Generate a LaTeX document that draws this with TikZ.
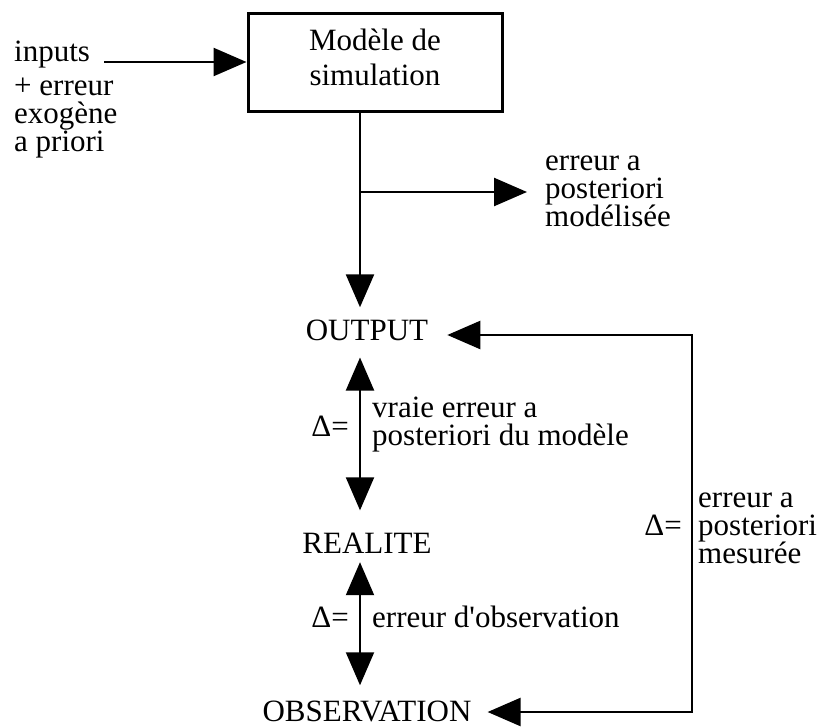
\documentclass[tikz,border=0pt]{standalone}
\usepackage{fontspec}
\setmainfont{Liberation Serif}
\usetikzlibrary{arrows.meta}
\newcommand\blockfont[1]{\fontsize{31}{#1}\selectfont\lineskiplimit=-100pt\lineskip=0pt}
\begin{document}
\begin{tikzpicture}[x=1pt,y=-1pt,
  txt/.style={inner sep=0pt, anchor=base west, align=left, font=\blockfont{28}},
  bigtri/.tip={Triangle[length=33pt,width=28pt]},
  arr/.style={line width=2.5pt, -bigtri},
  darr/.style={line width=2pt, bigtri-bigtri},
  modelbox/.style={draw, line width=3pt, minimum width=254pt, minimum height=98pt,
    inner sep=0pt, align=center, font=\blockfont{35}, text depth=10pt}]
\useasboundingbox (0,0) rectangle (820,728);
\fill[white] (0,0) rectangle (820,728);

% box
\node[modelbox] (model) at (375,62) {Modèle de\\simulation};

% left texts (multi-line nodes: base = baseline of last line)
\node[txt] (inp) at (14,61) {inputs};
\node[txt] (prior) at (14,151) {+ erreur\\exogène\\a priori};

% right upper text
\node[txt] (modlz) at (545,226) {erreur a\\posteriori\\modélisée};

% main column
\node[txt, anchor=base] (out) at (367,340) {OUTPUT};
\node[txt, anchor=base] (real) at (367,553) {REALITE};
\node[txt, anchor=base] (obs) at (367,721) {OBSERVATION};

% delta labels
\node[txt, anchor=base east] (d1) at (349,436) {Δ=};
\node[txt] (vraie) at (372,445) {vraie erreur a\\posteriori du modèle};
\node[txt, anchor=base east] (d2) at (349,627) {Δ=};
\node[txt] (obserr) at (372,627) {erreur d\textquotesingle observation};
\node[txt, anchor=base east] (d3) at (682,535) {Δ=};
\node[txt] (mes) at (698,563) {erreur a\\posteriori\\mesurée};

% coordinates
\coordinate (trunk) at ([xshift=-15pt]model.south);
\coordinate (branch) at (360,192);
\coordinate (rt) at (692,335);
\coordinate (rb) at (692,712);

% connectors
\draw[arr] ([shift={(14,1)}]inp.base east) -- (model.west);
\draw[arr, shorten >=12pt] (trunk) -- (trunk |- out.north);
\draw[arr] (branch) -- ([xshift=-18pt]branch -| modlz.west);
\draw[darr, shorten <=17pt, shorten >=22pt] ([xshift=-7pt]out.south) -- ([xshift=-7pt]real.north);
\draw[darr, shorten <=9pt, shorten >=15pt] ([xshift=-7pt]real.south) -- ([xshift=-7pt]obs.north);
\draw[line width=2.5pt, bigtri-bigtri] ([xshift=19pt]out.east |- rt) -- (rt) -- (rb) -- ([xshift=16pt]obs.east |- rb);
\end{tikzpicture}
\end{document}
